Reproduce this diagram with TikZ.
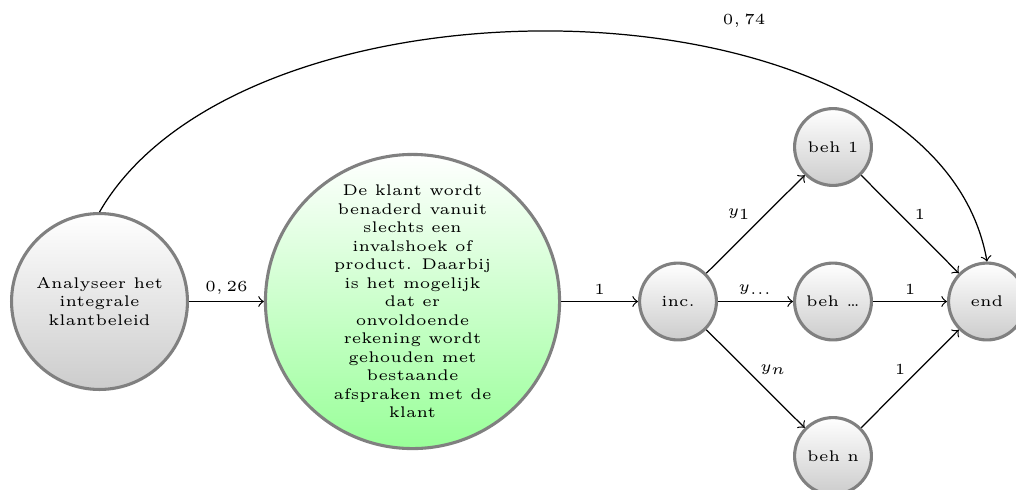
\documentclass[tikz,border=0pt]{standalone}
\begin{document}
\begin{tikzpicture}[x=0.324pt, y=-0.324pt, font=\tiny,
  state/.style={circle, draw=gray, line width=1pt, inner sep=0pt, align=center,
                top color=white, bottom color=gray!40},
  smallstate/.style={state, minimum size=24.9pt},
  bigstate/.style={state, minimum size=57pt},
  hugestate/.style={state, minimum size=95.3pt, bottom color=green!40},
  flow/.style={->, black},
  weight/.style={inner sep=0pt}
]
\useasboundingbox (0,0) rectangle (1016,489);

% states
\node[bigstate]   (A)   at (99.5,301.5)  {Analyseer het\\integrale\\klantbeleid};
\node[hugestate]  (G)   at (412.5,301.5) {De klant wordt\\benaderd vanuit\\slechts een\\invalshoek of\\product. Daarbij\\is het mogelijk\\dat er\\onvoldoende\\rekening wordt\\gehouden met\\bestaande\\afspraken met de\\klant};
\node[smallstate] (inc) at (678,301.5)   {inc.};
\node[smallstate] (b1)  at (833,147)     {beh 1};
\node[smallstate] (bd)  at (833,301.5)   {beh \dots};
\node[smallstate] (bn)  at (833,456)     {beh n};
\node[smallstate] (end) at (987,301.5)   {end};

% transitions
\draw[flow] (A) -- node[weight, above=2pt] {$0,26$} (G);
\draw[flow] (G) -- node[weight, above=2pt] {$1$} (inc);
\draw[flow] (inc) -- node[weight, above left=1.3pt] {$y_1$} (b1);
\draw[flow] (inc) -- node[weight, above=2pt] {$y_{\dots}$} (bd);
\draw[flow] (inc) -- node[weight, above right=1.3pt] {$y_n$} (bn);
\draw[flow] (b1) -- node[weight, above right=1.3pt] {$1$} (end);
\draw[flow] (bd) -- node[weight, above=2pt] {$1$} (end);
\draw[flow] (bn) -- node[weight, above left=1.3pt] {$1$} (end);
\draw[flow] (A.north) to[out=60, in=100, looseness=0.85]
  node[weight, pos=0.645, above=9pt] {$0,74$} (end.north);
\end{tikzpicture}
\end{document}
